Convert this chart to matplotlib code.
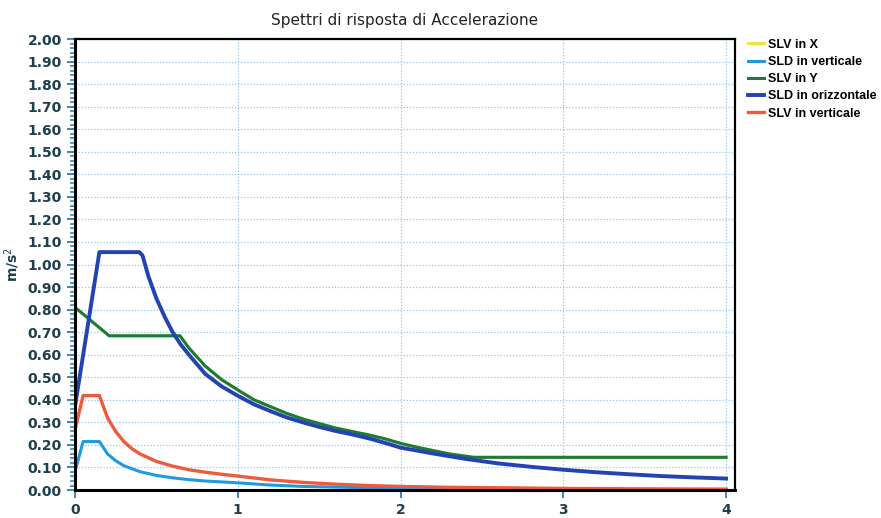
import matplotlib
matplotlib.use('Agg')
import matplotlib.pyplot as plt
import numpy as np
from matplotlib.ticker import MultipleLocator, FormatStrFormatter

# valori (periodo T in s, accelerazione in m/s2)
t_slv_y = [0, 0.21, 0.645, 0.7, 0.8, 0.9, 1.0, 1.1, 1.2, 1.3, 1.4, 1.5, 1.6,
           1.7, 1.8, 1.9, 2.0, 2.1, 2.2, 2.3, 2.45, 4.0]
a_slv_y = [0.81, 0.684, 0.684, 0.63, 0.55, 0.49, 0.444, 0.40, 0.37, 0.34, 0.315,
           0.295, 0.275, 0.26, 0.245, 0.228, 0.207, 0.19, 0.175, 0.16, 0.145, 0.145]

# SLV in X coincide con SLV in Y (coperta dalla linea verde)
t_slv_x = t_slv_y
a_slv_x = a_slv_y

t_sld_o = [0, 0.15, 0.395, 0.415, 0.45, 0.5, 0.55, 0.6, 0.65, 0.7, 0.8, 0.9, 1.0,
           1.1, 1.2, 1.3, 1.4, 1.5, 1.6, 1.7, 1.8, 1.9, 2.0, 2.2, 2.4, 2.6, 2.8,
           3.0, 3.2, 3.4, 3.6, 3.8, 4.0]
a_sld_o = [0.37, 1.055, 1.055, 1.04, 0.95, 0.85, 0.77, 0.70, 0.645, 0.60, 0.515,
           0.46, 0.418, 0.38, 0.35, 0.322, 0.30, 0.28, 0.262, 0.247, 0.23, 0.21,
           0.188, 0.162, 0.138, 0.118, 0.103, 0.09, 0.079, 0.07, 0.062, 0.056, 0.051]

t_slv_v = [0, 0.05, 0.15, 0.2, 0.25, 0.3, 0.35, 0.4, 0.5, 0.6, 0.7, 0.8, 0.9, 1.0,
           1.2, 1.4, 1.6, 1.8, 2.0, 2.3, 2.6, 3.0, 3.5, 4.0]
a_slv_v = [0.267, 0.419, 0.419, 0.32, 0.26, 0.215, 0.183, 0.16, 0.127, 0.106, 0.09,
           0.079, 0.07, 0.062, 0.045, 0.034, 0.026, 0.02, 0.016, 0.012, 0.01, 0.007,
           0.005, 0.004]

t_sld_v = [0, 0.05, 0.15, 0.2, 0.25, 0.3, 0.4, 0.5, 0.6, 0.7, 0.8, 0.9, 1.0, 1.2,
           1.4, 1.6, 1.8, 2.0, 2.5, 3.0, 3.5, 4.0]
a_sld_v = [0.081, 0.215, 0.215, 0.16, 0.13, 0.108, 0.081, 0.065, 0.054, 0.046,
           0.04, 0.036, 0.032, 0.022, 0.016, 0.013, 0.01, 0.008, 0.005, 0.004,
           0.003, 0.002]

tick_col = '#2a80a8'
lab_col = '#1d3f4e'

fig = plt.figure(figsize=(8.81, 5.18), dpi=100)
ax = fig.add_axes([0.0851, 0.054, 0.7492, 0.8707])

l1, = ax.plot(t_slv_x, a_slv_x, color='#f2e33a', lw=2.2, label='SLV in X')
l3, = ax.plot(t_slv_y, a_slv_y, color='#1c7a3c', lw=2.2, label='SLV in Y')
l2, = ax.plot(t_sld_v, a_sld_v, color='#1f9ae0', lw=2.2, label='SLD in verticale')
l5, = ax.plot(t_slv_v, a_slv_v, color='#ef5a3c', lw=2.4, label='SLV in verticale')
l4, = ax.plot(t_sld_o, a_sld_o, color='#2342b4', lw=2.8, label='SLD in orizzontale')

ax.set_xlim(0, 4.055)
ax.set_ylim(0, 2.0)
ax.yaxis.set_major_locator(MultipleLocator(0.1))
ax.yaxis.set_minor_locator(MultipleLocator(0.02))
ax.yaxis.set_major_formatter(FormatStrFormatter('%.2f'))
ax.xaxis.set_major_locator(MultipleLocator(1))

ax.grid(True, which='major', color='#8ccaea', linestyle=(0, (1, 1.5)), lw=0.9)
ax.tick_params(axis='both', which='major', direction='out', length=6, width=1.3,
               color=tick_col, labelcolor=lab_col, labelsize=10)
ax.tick_params(axis='y', which='minor', direction='out', length=3.5, width=1.1,
               color=tick_col)
for lab in ax.get_xticklabels() + ax.get_yticklabels():
    lab.set_fontweight('bold')

for s in ['left', 'bottom']:
    ax.spines[s].set_linewidth(2.2)
for s in ['top', 'right']:
    ax.spines[s].set_linewidth(1.6)

ax.set_title('Spettri di risposta di Accelerazione', fontsize=11, color='#222222', pad=10)
ax.set_ylabel('m/s$^2$', fontsize=10, fontweight='bold', color=lab_col, labelpad=4)

ax.legend(handles=[l1, l2, l3, l4, l5], loc='upper left', bbox_to_anchor=(1.006, 1.02),
          frameon=False, handlelength=1.3, handletextpad=0.35, borderaxespad=0.3,
          labelspacing=0.42,
          prop={'family': 'Liberation Sans', 'weight': 'bold', 'size': 9})

fig.savefig('out.png', dpi=100)
